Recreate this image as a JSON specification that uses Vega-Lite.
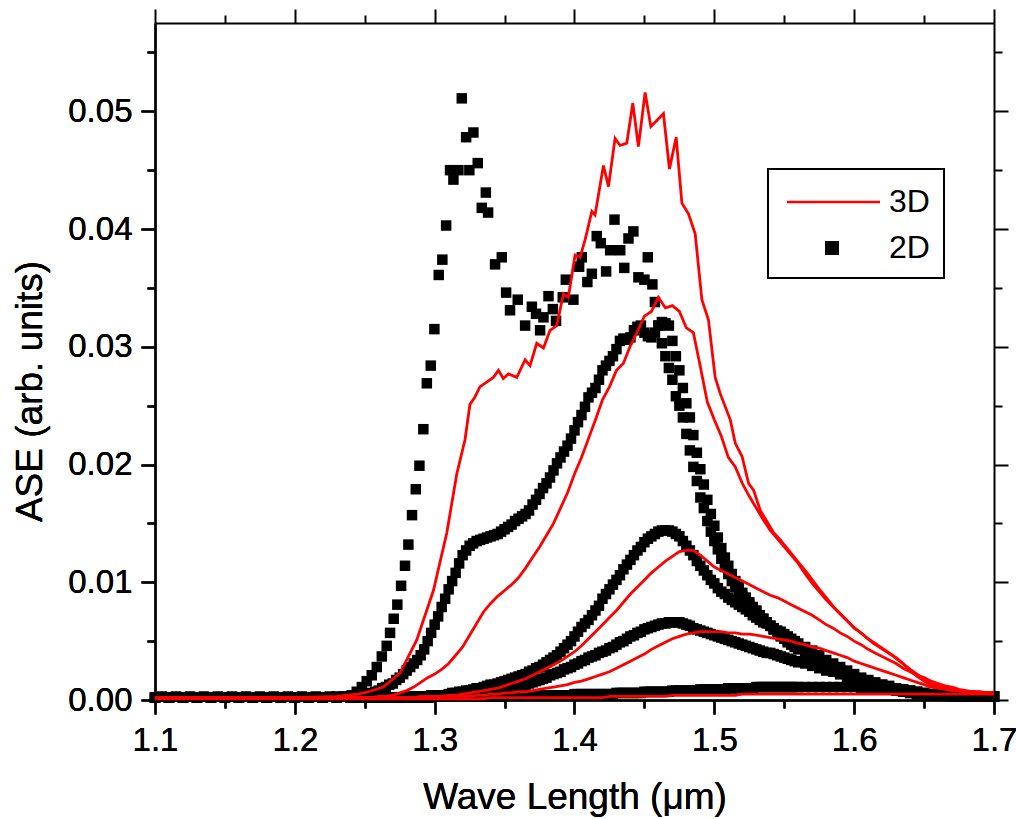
{
"$schema": "https://vega.github.io/schema/vega-lite/v6.json",
"width": 839, "height": 677,
"autosize": {"type": "none"},
"padding": {"left": 155, "top": 23, "right": 22, "bottom": 119},
"background": "white",
"config": {
  "view": {"stroke": null},
  "font": "Liberation Sans",
  "legend": {"strokeWidth": 2},
  "axis": {"labelFont": "Liberation Sans", "titleFont": "Liberation Sans", "labelColor": "black", "titleColor": "black", "domainColor": "black", "tickColor": "black", "titleFontWeight": "normal", "grid": false, "domainWidth": 2, "tickWidth": 2, "labelFontSize": 33, "titleFontSize": 37, "labelOverlap": false, "labelFlush": false}
},
"datasets": {
"w2": [
{"x":1.1,"a":0.0002,"b":0.0002,"c":0.0002,"d":0.0002},
{"x":1.11,"a":0.0002,"b":0.0002,"c":0.0002,"d":0.0002},
{"x":1.12,"a":0.0002,"b":0.0002,"c":0.0002,"d":0.0002},
{"x":1.13,"a":0.0002,"b":0.0002,"c":0.0002,"d":0.0002},
{"x":1.14,"a":0.0002,"b":0.0002,"c":0.0002,"d":0.0002},
{"x":1.15,"a":0.0002,"b":0.0002,"c":0.0002,"d":0.0002},
{"x":1.16,"a":0.0002,"b":0.0002,"c":0.0002,"d":0.0002},
{"x":1.17,"a":0.0002,"b":0.0002,"c":0.0002,"d":0.0002},
{"x":1.18,"a":0.0002,"b":0.0002,"c":0.0002,"d":0.0002},
{"x":1.19,"a":0.0002,"b":0.0002,"c":0.0002,"d":0.0002},
{"x":1.2,"a":0.0002,"b":0.0002,"c":0.0002,"d":0.0002},
{"x":1.21,"a":0.0002,"b":0.0002,"c":0.0002,"d":0.0002},
{"x":1.22,"a":0.0002,"b":0.0002,"c":0.0002,"d":0.0002},
{"x":1.23,"a":0.0002,"b":0.0002,"c":0.0002,"d":0.0003},
{"x":1.24,"a":0.0002,"b":0.0002,"c":0.0002,"d":0.0003},
{"x":1.2425,"a":0.0002,"b":0.0002,"c":0.0002,"d":0.0003},
{"x":1.245,"a":0.0002,"b":0.0002,"c":0.0002,"d":0.0003},
{"x":1.2475,"a":0.0002,"b":0.0002,"c":0.0002,"d":0.0004},
{"x":1.25,"a":0.0002,"b":0.0002,"c":0.0002,"d":0.0004},
{"x":1.2525,"a":0.0002,"b":0.0002,"c":0.0002,"d":0.0005},
{"x":1.255,"a":0.0002,"b":0.0002,"c":0.0002,"d":0.0006},
{"x":1.2575,"a":0.0002,"b":0.0002,"c":0.0002,"d":0.0007},
{"x":1.26,"a":0.0002,"b":0.0002,"c":0.0002,"d":0.0008},
{"x":1.2625,"a":0.0002,"b":0.0002,"c":0.0002,"d":0.001},
{"x":1.265,"a":0.0002,"b":0.0002,"c":0.0002,"d":0.0011},
{"x":1.2675,"a":0.0002,"b":0.0002,"c":0.0002,"d":0.0013},
{"x":1.27,"a":0.0002,"b":0.0002,"c":0.0002,"d":0.0014},
{"x":1.2725,"a":0.0002,"b":0.0002,"c":0.0002,"d":0.0017},
{"x":1.275,"a":0.0002,"b":0.0002,"c":0.0002,"d":0.0019},
{"x":1.2775,"a":0.0002,"b":0.0002,"c":0.0002,"d":0.0022},
{"x":1.28,"a":0.0002,"b":0.0002,"c":0.0003,"d":0.0025},
{"x":1.2825,"a":0.0002,"b":0.0003,"c":0.0003,"d":0.0028},
{"x":1.285,"a":0.0002,"b":0.0003,"c":0.0003,"d":0.0031},
{"x":1.2875,"a":0.0002,"b":0.0003,"c":0.0003,"d":0.0034},
{"x":1.29,"a":0.0002,"b":0.0003,"c":0.0003,"d":0.0038},
{"x":1.2925,"a":0.0002,"b":0.0003,"c":0.0003,"d":0.0043},
{"x":1.295,"a":0.0002,"b":0.0003,"c":0.0003,"d":0.005},
{"x":1.2975,"a":0.0002,"b":0.0003,"c":0.0004,"d":0.0057},
{"x":1.3,"a":0.0003,"b":0.0003,"c":0.0004,"d":0.0064},
{"x":1.3025,"a":0.0003,"b":0.0004,"c":0.0004,"d":0.0071},
{"x":1.305,"a":0.0003,"b":0.0004,"c":0.0004,"d":0.0079},
{"x":1.3075,"a":0.0003,"b":0.0004,"c":0.0004,"d":0.0086},
{"x":1.31,"a":0.0003,"b":0.0004,"c":0.0005,"d":0.0094},
{"x":1.3125,"a":0.0003,"b":0.0004,"c":0.0006,"d":0.0101},
{"x":1.315,"a":0.0003,"b":0.0004,"c":0.0006,"d":0.0108},
{"x":1.3175,"a":0.0003,"b":0.0005,"c":0.0007,"d":0.0116},
{"x":1.32,"a":0.0003,"b":0.0005,"c":0.0007,"d":0.0123},
{"x":1.3225,"a":0.0003,"b":0.0005,"c":0.0008,"d":0.0127},
{"x":1.325,"a":0.0003,"b":0.0005,"c":0.0008,"d":0.0131},
{"x":1.3275,"a":0.0003,"b":0.0005,"c":0.0009,"d":0.0133},
{"x":1.33,"a":0.0003,"b":0.0005,"c":0.001,"d":0.0135},
{"x":1.3325,"a":0.0003,"b":0.0006,"c":0.001,"d":0.0136},
{"x":1.335,"a":0.0003,"b":0.0006,"c":0.0011,"d":0.0137},
{"x":1.3375,"a":0.0003,"b":0.0006,"c":0.0012,"d":0.0138},
{"x":1.34,"a":0.0003,"b":0.0006,"c":0.0013,"d":0.0139},
{"x":1.3425,"a":0.0003,"b":0.0007,"c":0.0013,"d":0.014},
{"x":1.345,"a":0.0003,"b":0.0008,"c":0.0014,"d":0.0141},
{"x":1.3475,"a":0.0003,"b":0.0008,"c":0.0015,"d":0.0143},
{"x":1.35,"a":0.0004,"b":0.0009,"c":0.0016,"d":0.0145},
{"x":1.3525,"a":0.0004,"b":0.0009,"c":0.0017,"d":0.0147},
{"x":1.355,"a":0.0004,"b":0.001,"c":0.0018,"d":0.0149},
{"x":1.3575,"a":0.0004,"b":0.0011,"c":0.0019,"d":0.0152},
{"x":1.36,"a":0.0004,"b":0.0012,"c":0.002,"d":0.0154},
{"x":1.3625,"a":0.0004,"b":0.0013,"c":0.0021,"d":0.0156},
{"x":1.365,"a":0.0004,"b":0.0013,"c":0.0022,"d":0.0158},
{"x":1.3675,"a":0.0004,"b":0.0014,"c":0.0024,"d":0.0161},
{"x":1.37,"a":0.0004,"b":0.0015,"c":0.0025,"d":0.0166},
{"x":1.3725,"a":0.0004,"b":0.0016,"c":0.0027,"d":0.017},
{"x":1.375,"a":0.0004,"b":0.0017,"c":0.0028,"d":0.0175},
{"x":1.3775,"a":0.0004,"b":0.0018,"c":0.003,"d":0.018},
{"x":1.38,"a":0.0004,"b":0.0019,"c":0.0032,"d":0.0184},
{"x":1.3825,"a":0.0004,"b":0.0021,"c":0.0034,"d":0.0189},
{"x":1.385,"a":0.0004,"b":0.0022,"c":0.0036,"d":0.0195},
{"x":1.3875,"a":0.0004,"b":0.0023,"c":0.0038,"d":0.0201},
{"x":1.39,"a":0.0004,"b":0.0024,"c":0.0041,"d":0.0206},
{"x":1.3925,"a":0.0004,"b":0.0026,"c":0.0044,"d":0.0211},
{"x":1.395,"a":0.0004,"b":0.0027,"c":0.0047,"d":0.0216},
{"x":1.3975,"a":0.0004,"b":0.0028,"c":0.005,"d":0.0222},
{"x":1.4,"a":0.0005,"b":0.003,"c":0.0054,"d":0.0229},
{"x":1.4025,"a":0.0005,"b":0.0031,"c":0.0058,"d":0.0236},
{"x":1.405,"a":0.0005,"b":0.0033,"c":0.0062,"d":0.0242},
{"x":1.4075,"a":0.0005,"b":0.0034,"c":0.0065,"d":0.0249},
{"x":1.41,"a":0.0005,"b":0.0036,"c":0.0068,"d":0.0257},
{"x":1.4125,"a":0.0005,"b":0.0037,"c":0.0072,"d":0.0261},
{"x":1.415,"a":0.0005,"b":0.0038,"c":0.0076,"d":0.0265},
{"x":1.4175,"a":0.0005,"b":0.004,"c":0.008,"d":0.0272},
{"x":1.42,"a":0.0005,"b":0.0041,"c":0.0086,"d":0.028},
{"x":1.4225,"a":0.0005,"b":0.0042,"c":0.009,"d":0.0284},
{"x":1.425,"a":0.0005,"b":0.0044,"c":0.0094,"d":0.0288},
{"x":1.4275,"a":0.0005,"b":0.0045,"c":0.0098,"d":0.0292},
{"x":1.43,"a":0.0006,"b":0.0047,"c":0.0102,"d":0.0298},
{"x":1.4325,"a":0.0006,"b":0.0049,"c":0.0106,"d":0.0305},
{"x":1.435,"a":0.0006,"b":0.005,"c":0.0111,"d":0.0307},
{"x":1.4375,"a":0.0006,"b":0.0052,"c":0.0115,"d":0.0306},
{"x":1.44,"a":0.0006,"b":0.0054,"c":0.0119,"d":0.0308},
{"x":1.4425,"a":0.0006,"b":0.0055,"c":0.0123,"d":0.0314},
{"x":1.445,"a":0.0006,"b":0.0057,"c":0.0127,"d":0.0317},
{"x":1.4475,"a":0.0006,"b":0.0058,"c":0.013,"d":0.0318},
{"x":1.45,"a":0.0007,"b":0.006,"c":0.0134,"d":0.0312},
{"x":1.4525,"a":0.0007,"b":0.0061,"c":0.0137,"d":0.0309},
{"x":1.455,"a":0.0007,"b":0.0062,"c":0.0139,"d":0.0308},
{"x":1.4575,"a":0.0007,"b":0.0063,"c":0.0141,"d":0.0312},
{"x":1.46,"a":0.0007,"b":0.0064,"c":0.0143,"d":0.0318},
{"x":1.4625,"a":0.0007,"b":0.0065,"c":0.0144,"d":0.0321},
{"x":1.465,"a":0.0007,"b":0.0065,"c":0.0144,"d":0.032},
{"x":1.4675,"a":0.0007,"b":0.0066,"c":0.0144,"d":0.0318},
{"x":1.47,"a":0.0008,"b":0.0066,"c":0.0143,"d":0.0305},
{"x":1.4725,"a":0.0008,"b":0.0066,"c":0.0141,"d":0.0292},
{"x":1.475,"a":0.0008,"b":0.0066,"c":0.0139,"d":0.028},
{"x":1.4775,"a":0.0008,"b":0.0065,"c":0.0135,"d":0.0265},
{"x":1.48,"a":0.0008,"b":0.0064,"c":0.0131,"d":0.0252},
{"x":1.4825,"a":0.0008,"b":0.0063,"c":0.0127,"d":0.024},
{"x":1.485,"a":0.0008,"b":0.0061,"c":0.0123,"d":0.0225},
{"x":1.4875,"a":0.0008,"b":0.006,"c":0.0118,"d":0.021},
{"x":1.49,"a":0.0009,"b":0.0059,"c":0.0114,"d":0.0196},
{"x":1.4925,"a":0.0009,"b":0.0058,"c":0.011,"d":0.0183},
{"x":1.495,"a":0.0009,"b":0.0057,"c":0.0106,"d":0.017},
{"x":1.4975,"a":0.0009,"b":0.0056,"c":0.0102,"d":0.0158},
{"x":1.5,"a":0.0009,"b":0.0055,"c":0.0099,"d":0.0148},
{"x":1.5025,"a":0.0009,"b":0.0054,"c":0.0095,"d":0.0138},
{"x":1.505,"a":0.0009,"b":0.0053,"c":0.0092,"d":0.0129},
{"x":1.5075,"a":0.0009,"b":0.0052,"c":0.009,"d":0.0121},
{"x":1.51,"a":0.001,"b":0.0051,"c":0.0087,"d":0.0114},
{"x":1.5125,"a":0.001,"b":0.005,"c":0.0085,"d":0.0107},
{"x":1.515,"a":0.001,"b":0.0049,"c":0.0083,"d":0.0101},
{"x":1.5175,"a":0.001,"b":0.0048,"c":0.0081,"d":0.0096},
{"x":1.52,"a":0.001,"b":0.0047,"c":0.0079,"d":0.0091},
{"x":1.5225,"a":0.001,"b":0.0046,"c":0.0077,"d":0.0087},
{"x":1.525,"a":0.001,"b":0.0045,"c":0.0075,"d":0.0083},
{"x":1.5275,"a":0.001,"b":0.0044,"c":0.0072,"d":0.0079},
{"x":1.53,"a":0.0011,"b":0.0043,"c":0.007,"d":0.0076},
{"x":1.5325,"a":0.0011,"b":0.0042,"c":0.0068,"d":0.0072},
{"x":1.535,"a":0.0011,"b":0.0041,"c":0.0066,"d":0.0069},
{"x":1.5375,"a":0.0011,"b":0.004,"c":0.0065,"d":0.0066},
{"x":1.54,"a":0.0011,"b":0.004,"c":0.0063,"d":0.0063},
{"x":1.5425,"a":0.0011,"b":0.0039,"c":0.0061,"d":0.006},
{"x":1.545,"a":0.0011,"b":0.0038,"c":0.0059,"d":0.0057},
{"x":1.5475,"a":0.0011,"b":0.0037,"c":0.0058,"d":0.0054},
{"x":1.55,"a":0.0011,"b":0.0036,"c":0.0056,"d":0.0052},
{"x":1.5525,"a":0.0011,"b":0.0035,"c":0.0054,"d":0.0049},
{"x":1.555,"a":0.0011,"b":0.0034,"c":0.0052,"d":0.0047},
{"x":1.5575,"a":0.0011,"b":0.0033,"c":0.005,"d":0.0045},
{"x":1.56,"a":0.0011,"b":0.0032,"c":0.0048,"d":0.0043},
{"x":1.565,"a":0.0011,"b":0.0031,"c":0.0045,"d":0.0039},
{"x":1.57,"a":0.0011,"b":0.0029,"c":0.0042,"d":0.0035},
{"x":1.575,"a":0.0011,"b":0.0027,"c":0.0038,"d":0.0031},
{"x":1.58,"a":0.0011,"b":0.0025,"c":0.0034,"d":0.0028},
{"x":1.585,"a":0.0011,"b":0.0024,"c":0.0031,"d":0.0025},
{"x":1.59,"a":0.0011,"b":0.0022,"c":0.0028,"d":0.0022},
{"x":1.595,"a":0.0011,"b":0.002,"c":0.0025,"d":0.0019},
{"x":1.6,"a":0.0011,"b":0.0019,"c":0.0022,"d":0.0017},
{"x":1.605,"a":0.001,"b":0.0017,"c":0.0019,"d":0.0015},
{"x":1.61,"a":0.001,"b":0.0016,"c":0.0017,"d":0.0013},
{"x":1.615,"a":0.001,"b":0.0014,"c":0.0015,"d":0.0011},
{"x":1.62,"a":0.001,"b":0.0013,"c":0.0013,"d":0.001},
{"x":1.625,"a":0.0009,"b":0.0012,"c":0.0011,"d":0.0009},
{"x":1.63,"a":0.0009,"b":0.001,"c":0.0009,"d":0.0008},
{"x":1.635,"a":0.0009,"b":0.0009,"c":0.0008,"d":0.0007},
{"x":1.64,"a":0.0008,"b":0.0008,"c":0.0007,"d":0.0006},
{"x":1.645,"a":0.0007,"b":0.0007,"c":0.0006,"d":0.0005},
{"x":1.65,"a":0.0006,"b":0.0006,"c":0.0005,"d":0.0005},
{"x":1.655,"a":0.0005,"b":0.0005,"c":0.0004,"d":0.0005},
{"x":1.66,"a":0.0004,"b":0.0005,"c":0.0004,"d":0.0004},
{"x":1.665,"a":0.0004,"b":0.0004,"c":0.0004,"d":0.0004},
{"x":1.67,"a":0.0004,"b":0.0004,"c":0.0003,"d":0.0004},
{"x":1.675,"a":0.0003,"b":0.0003,"c":0.0003,"d":0.0003},
{"x":1.68,"a":0.0003,"b":0.0003,"c":0.0003,"d":0.0003},
{"x":1.685,"a":0.0003,"b":0.0003,"c":0.0003,"d":0.0003},
{"x":1.69,"a":0.0003,"b":0.0003,"c":0.0003,"d":0.0003},
{"x":1.695,"a":0.0003,"b":0.0003,"c":0.0003,"d":0.0003},
{"x":1.7,"a":0.0003,"b":0.0003,"c":0.0003,"d":0.0003}
],
"e2": [
{"x":1.105,"y":0.0003},{"x":1.115,"y":0.0003},{"x":1.125,"y":0.0003},{"x":1.135,"y":0.0003},{"x":1.145,"y":0.0003},
{"x":1.155,"y":0.0003},{"x":1.165,"y":0.0003},{"x":1.175,"y":0.0003},{"x":1.185,"y":0.0003},{"x":1.195,"y":0.0003},
{"x":1.205,"y":0.0003},{"x":1.215,"y":0.0003},{"x":1.225,"y":0.0003},{"x":1.235,"y":0.0003},{"x":1.2375,"y":0.0003},
{"x":1.2407,"y":0.0004},{"x":1.2443,"y":0.0007},{"x":1.2479,"y":0.0011},{"x":1.2514,"y":0.0016},{"x":1.255,"y":0.0021},
{"x":1.2586,"y":0.0028},{"x":1.2622,"y":0.0037},{"x":1.2657,"y":0.0046},{"x":1.2681,"y":0.0057},{"x":1.2707,"y":0.0069},
{"x":1.2733,"y":0.0081},{"x":1.276,"y":0.0097},{"x":1.2788,"y":0.0114},{"x":1.2812,"y":0.0132},{"x":1.2838,"y":0.0157},
{"x":1.2865,"y":0.0179},{"x":1.2891,"y":0.0199},{"x":1.2919,"y":0.023},{"x":1.2944,"y":0.0269},{"x":1.2972,"y":0.0284},
{"x":1.2998,"y":0.0315},{"x":1.3029,"y":0.0361},{"x":1.3055,"y":0.0374},{"x":1.3082,"y":0.0403},{"x":1.311,"y":0.045},
{"x":1.3134,"y":0.0442},{"x":1.317,"y":0.045},{"x":1.3194,"y":0.0511},{"x":1.3225,"y":0.0478},{"x":1.3248,"y":0.045},
{"x":1.3277,"y":0.0482},{"x":1.3308,"y":0.0456},{"x":1.3337,"y":0.0418},{"x":1.3366,"y":0.0431},{"x":1.3382,"y":0.0414},
{"x":1.3432,"y":0.037},{"x":1.348,"y":0.0376},{"x":1.3511,"y":0.0346},{"x":1.3539,"y":0.0331},{"x":1.3594,"y":0.034},
{"x":1.3647,"y":0.0318},{"x":1.3695,"y":0.0334},{"x":1.3725,"y":0.0328},{"x":1.3754,"y":0.0314},{"x":1.3778,"y":0.0325},
{"x":1.3814,"y":0.0343},{"x":1.3845,"y":0.0332},{"x":1.3868,"y":0.0322},{"x":1.3916,"y":0.0342},{"x":1.3938,"y":0.0357},
{"x":1.3992,"y":0.034},{"x":1.4033,"y":0.0368},{"x":1.4052,"y":0.0376},{"x":1.4092,"y":0.0355},{"x":1.4124,"y":0.0362},
{"x":1.4159,"y":0.0394},{"x":1.4188,"y":0.0388},{"x":1.4226,"y":0.0364},{"x":1.4255,"y":0.0382},{"x":1.4286,"y":0.0408},
{"x":1.4327,"y":0.0382},{"x":1.4356,"y":0.0367},{"x":1.4386,"y":0.0392},{"x":1.4421,"y":0.0398},{"x":1.4457,"y":0.0359},
{"x":1.45,"y":0.0357},{"x":1.4524,"y":0.0376},{"x":1.4557,"y":0.0353},{"x":1.4575,"y":0.0338},{"x":1.46,"y":0.0318},
{"x":1.4625,"y":0.0303},{"x":1.465,"y":0.0292},{"x":1.4675,"y":0.0282},{"x":1.47,"y":0.0272},{"x":1.4725,"y":0.0258},
{"x":1.475,"y":0.025},{"x":1.4775,"y":0.024},{"x":1.48,"y":0.0226},{"x":1.4825,"y":0.0212},{"x":1.485,"y":0.0198},
{"x":1.4875,"y":0.0186},{"x":1.49,"y":0.0172},{"x":1.4925,"y":0.0163},{"x":1.495,"y":0.0152},{"x":1.4975,"y":0.0143},
{"x":1.5,"y":0.0135},{"x":1.5025,"y":0.0128},{"x":1.505,"y":0.012},{"x":1.5075,"y":0.0113},{"x":1.51,"y":0.0107},
{"x":1.5125,"y":0.0101},{"x":1.515,"y":0.0096},{"x":1.5175,"y":0.0092},{"x":1.52,"y":0.0088},{"x":1.5225,"y":0.0084},
{"x":1.525,"y":0.0081},{"x":1.5275,"y":0.0078},{"x":1.53,"y":0.0075},{"x":1.5325,"y":0.0072},{"x":1.535,"y":0.0069},
{"x":1.5375,"y":0.0066},{"x":1.54,"y":0.0063},{"x":1.5425,"y":0.006},{"x":1.545,"y":0.0057},{"x":1.5475,"y":0.0055},
{"x":1.55,"y":0.0052},{"x":1.5525,"y":0.005},{"x":1.555,"y":0.0048},{"x":1.5575,"y":0.0046},{"x":1.56,"y":0.0044},
{"x":1.565,"y":0.004},{"x":1.57,"y":0.0036},{"x":1.575,"y":0.0032},{"x":1.58,"y":0.0029},{"x":1.585,"y":0.0026},
{"x":1.59,"y":0.0023},{"x":1.595,"y":0.002},{"x":1.6,"y":0.0018},{"x":1.605,"y":0.0016},{"x":1.61,"y":0.0014},
{"x":1.615,"y":0.0012},{"x":1.62,"y":0.001},{"x":1.625,"y":0.0009},{"x":1.63,"y":0.0008},{"x":1.635,"y":0.0007},
{"x":1.64,"y":0.0006},{"x":1.645,"y":0.0005},{"x":1.65,"y":0.0005},{"x":1.66,"y":0.0004},{"x":1.67,"y":0.0004},
{"x":1.68,"y":0.0003},{"x":1.69,"y":0.0003},{"x":1.7,"y":0.0003}
],
"w3": [
{"x":1.1,"f":0.0001,"g":0.0002,"h":0.0002,"i":0.0002},
{"x":1.15,"f":0.0001,"g":0.0002,"h":0.0002,"i":0.0002},
{"x":1.2,"f":0.0001,"g":0.0002,"h":0.0002,"i":0.0002},
{"x":1.22,"f":0.0001,"g":0.0002,"h":0.0002,"i":0.0002},
{"x":1.24,"f":0.0001,"g":0.0002,"h":0.0002,"i":0.0002},
{"x":1.25,"f":0.0001,"g":0.0002,"h":0.0002,"i":0.0002},
{"x":1.255,"f":0.0001,"g":0.0002,"h":0.0002,"i":0.0002},
{"x":1.26,"f":0.0001,"g":0.0002,"h":0.0002,"i":0.0003},
{"x":1.265,"f":0.0001,"g":0.0002,"h":0.0002,"i":0.0003},
{"x":1.27,"f":0.0001,"g":0.0002,"h":0.0002,"i":0.0004},
{"x":1.275,"f":0.0001,"g":0.0002,"h":0.0002,"i":0.0006},
{"x":1.28,"f":0.0001,"g":0.0002,"h":0.0002,"i":0.0008},
{"x":1.285,"f":0.0001,"g":0.0002,"h":0.0002,"i":0.0011},
{"x":1.29,"f":0.0001,"g":0.0002,"h":0.0003,"i":0.0015},
{"x":1.295,"f":0.0001,"g":0.0002,"h":0.0003,"i":0.0019},
{"x":1.3,"f":0.0001,"g":0.0002,"h":0.0003,"i":0.0022},
{"x":1.305,"f":0.0001,"g":0.0003,"h":0.0003,"i":0.0026},
{"x":1.31,"f":0.0001,"g":0.0003,"h":0.0004,"i":0.0031},
{"x":1.315,"f":0.0001,"g":0.0003,"h":0.0004,"i":0.0038},
{"x":1.32,"f":0.0001,"g":0.0003,"h":0.0005,"i":0.0045},
{"x":1.325,"f":0.0001,"g":0.0003,"h":0.0006,"i":0.0055},
{"x":1.33,"f":0.0001,"g":0.0004,"h":0.0007,"i":0.0065},
{"x":1.335,"f":0.0001,"g":0.0004,"h":0.0008,"i":0.0075},
{"x":1.34,"f":0.0002,"g":0.0005,"h":0.0009,"i":0.0082},
{"x":1.345,"f":0.0002,"g":0.0005,"h":0.001,"i":0.0088},
{"x":1.35,"f":0.0002,"g":0.0006,"h":0.0012,"i":0.0093},
{"x":1.355,"f":0.0002,"g":0.0006,"h":0.0014,"i":0.0098},
{"x":1.36,"f":0.0002,"g":0.0007,"h":0.0016,"i":0.0104},
{"x":1.365,"f":0.0002,"g":0.0007,"h":0.0018,"i":0.0112},
{"x":1.37,"f":0.0002,"g":0.0008,"h":0.0021,"i":0.0121},
{"x":1.375,"f":0.0002,"g":0.0009,"h":0.0024,"i":0.013},
{"x":1.38,"f":0.0002,"g":0.001,"h":0.0027,"i":0.014},
{"x":1.385,"f":0.0002,"g":0.0011,"h":0.003,"i":0.015},
{"x":1.39,"f":0.0002,"g":0.0012,"h":0.0033,"i":0.0163},
{"x":1.395,"f":0.0002,"g":0.0013,"h":0.0037,"i":0.0176},
{"x":1.4,"f":0.0002,"g":0.0015,"h":0.0041,"i":0.0192},
{"x":1.405,"f":0.0002,"g":0.0016,"h":0.0046,"i":0.0206},
{"x":1.41,"f":0.0002,"g":0.0018,"h":0.0052,"i":0.0222},
{"x":1.415,"f":0.0002,"g":0.002,"h":0.0058,"i":0.0238},
{"x":1.42,"f":0.0002,"g":0.0022,"h":0.0064,"i":0.0255},
{"x":1.425,"f":0.0003,"g":0.0024,"h":0.007,"i":0.0266},
{"x":1.43,"f":0.0003,"g":0.0027,"h":0.0076,"i":0.028},
{"x":1.435,"f":0.0003,"g":0.003,"h":0.0083,"i":0.0286},
{"x":1.44,"f":0.0003,"g":0.0033,"h":0.009,"i":0.0301},
{"x":1.445,"f":0.0003,"g":0.0036,"h":0.0096,"i":0.0313},
{"x":1.45,"f":0.0003,"g":0.0039,"h":0.0102,"i":0.0326},
{"x":1.455,"f":0.0003,"g":0.0043,"h":0.0108,"i":0.033},
{"x":1.46,"f":0.0003,"g":0.0046,"h":0.0113,"i":0.0342},
{"x":1.465,"f":0.0003,"g":0.0049,"h":0.0118,"i":0.0333},
{"x":1.47,"f":0.0004,"g":0.0052,"h":0.0122,"i":0.0335},
{"x":1.475,"f":0.0004,"g":0.0054,"h":0.0126,"i":0.033},
{"x":1.48,"f":0.0004,"g":0.0056,"h":0.0127,"i":0.0316},
{"x":1.485,"f":0.0004,"g":0.0057,"h":0.0127,"i":0.0312},
{"x":1.49,"f":0.0004,"g":0.0058,"h":0.0123,"i":0.0283},
{"x":1.495,"f":0.0004,"g":0.0058,"h":0.0118,"i":0.0253},
{"x":1.5,"f":0.0004,"g":0.0058,"h":0.0113,"i":0.0238},
{"x":1.505,"f":0.0004,"g":0.0058,"h":0.011,"i":0.0224},
{"x":1.51,"f":0.0004,"g":0.0057,"h":0.0107,"i":0.0206},
{"x":1.515,"f":0.0004,"g":0.0057,"h":0.0104,"i":0.0198},
{"x":1.52,"f":0.0005,"g":0.0056,"h":0.0101,"i":0.0184},
{"x":1.525,"f":0.0005,"g":0.0056,"h":0.0098,"i":0.0173},
{"x":1.53,"f":0.0005,"g":0.0055,"h":0.0095,"i":0.0163},
{"x":1.535,"f":0.0005,"g":0.0054,"h":0.0092,"i":0.0153},
{"x":1.54,"f":0.0005,"g":0.0053,"h":0.0089,"i":0.0144},
{"x":1.545,"f":0.0005,"g":0.0052,"h":0.0087,"i":0.0137},
{"x":1.55,"f":0.0005,"g":0.0051,"h":0.0084,"i":0.013},
{"x":1.555,"f":0.0005,"g":0.005,"h":0.0081,"i":0.0123},
{"x":1.56,"f":0.0005,"g":0.0048,"h":0.0078,"i":0.0116},
{"x":1.565,"f":0.0005,"g":0.0047,"h":0.0075,"i":0.0107},
{"x":1.57,"f":0.0005,"g":0.0045,"h":0.0072,"i":0.0099},
{"x":1.575,"f":0.0005,"g":0.0044,"h":0.0068,"i":0.0092},
{"x":1.58,"f":0.0005,"g":0.0042,"h":0.0064,"i":0.0085},
{"x":1.585,"f":0.0005,"g":0.004,"h":0.0061,"i":0.0079},
{"x":1.59,"f":0.0005,"g":0.0038,"h":0.0057,"i":0.0073},
{"x":1.595,"f":0.0005,"g":0.0036,"h":0.0054,"i":0.0067},
{"x":1.6,"f":0.0005,"g":0.0033,"h":0.005,"i":0.0061},
{"x":1.605,"f":0.0005,"g":0.0031,"h":0.0047,"i":0.0057},
{"x":1.61,"f":0.0005,"g":0.0029,"h":0.0043,"i":0.0052},
{"x":1.615,"f":0.0005,"g":0.0027,"h":0.004,"i":0.0048},
{"x":1.62,"f":0.0005,"g":0.0025,"h":0.0037,"i":0.0044},
{"x":1.625,"f":0.0005,"g":0.0023,"h":0.0034,"i":0.004},
{"x":1.63,"f":0.0005,"g":0.0021,"h":0.0031,"i":0.0036},
{"x":1.635,"f":0.0005,"g":0.0019,"h":0.0027,"i":0.0031},
{"x":1.64,"f":0.0005,"g":0.0017,"h":0.0024,"i":0.0025},
{"x":1.645,"f":0.0005,"g":0.0015,"h":0.0021,"i":0.002},
{"x":1.65,"f":0.0005,"g":0.0013,"h":0.0019,"i":0.0016},
{"x":1.655,"f":0.0005,"g":0.0011,"h":0.0016,"i":0.0013},
{"x":1.66,"f":0.0005,"g":0.001,"h":0.0014,"i":0.0011},
{"x":1.665,"f":0.0005,"g":0.0009,"h":0.0012,"i":0.001},
{"x":1.67,"f":0.0005,"g":0.0008,"h":0.0011,"i":0.0009},
{"x":1.675,"f":0.0005,"g":0.0008,"h":0.0009,"i":0.0008},
{"x":1.68,"f":0.0005,"g":0.0007,"h":0.0008,"i":0.0007},
{"x":1.685,"f":0.0005,"g":0.0007,"h":0.0007,"i":0.0007},
{"x":1.69,"f":0.0005,"g":0.0006,"h":0.0007,"i":0.0006},
{"x":1.695,"f":0.0005,"g":0.0006,"h":0.0006,"i":0.0006},
{"x":1.7,"f":0.0005,"g":0.0006,"h":0.0006,"i":0.0006}
],
"e3": [
{"x":1.1,"y":0.0002},{"x":1.2,"y":0.0002},{"x":1.23,"y":0.0003},{"x":1.245,"y":0.0005},{"x":1.2526,"y":0.0007},
{"x":1.2633,"y":0.0011},{"x":1.2753,"y":0.0023},{"x":1.2872,"y":0.0051},{"x":1.2991,"y":0.0093},{"x":1.3087,"y":0.0142},
{"x":1.3158,"y":0.0192},{"x":1.3217,"y":0.0221},{"x":1.3252,"y":0.0251},{"x":1.3287,"y":0.0257},{"x":1.3323,"y":0.0266},
{"x":1.3359,"y":0.0269},{"x":1.342,"y":0.0274},{"x":1.3456,"y":0.028},{"x":1.3491,"y":0.0273},{"x":1.3527,"y":0.0277},
{"x":1.3587,"y":0.0274},{"x":1.3647,"y":0.0289},{"x":1.3682,"y":0.0284},{"x":1.373,"y":0.0303},{"x":1.3778,"y":0.0299},
{"x":1.3825,"y":0.0314},{"x":1.3873,"y":0.0318},{"x":1.3921,"y":0.0345},{"x":1.3956,"y":0.0342},{"x":1.4004,"y":0.0378},
{"x":1.404,"y":0.0376},{"x":1.4076,"y":0.0391},{"x":1.4124,"y":0.0415},{"x":1.4147,"y":0.0412},{"x":1.4207,"y":0.0454},
{"x":1.4243,"y":0.0436},{"x":1.429,"y":0.0477},{"x":1.4326,"y":0.0471},{"x":1.4374,"y":0.0473},{"x":1.4417,"y":0.0507},
{"x":1.4457,"y":0.047},{"x":1.4505,"y":0.0516},{"x":1.4546,"y":0.0487},{"x":1.4636,"y":0.0498},{"x":1.4679,"y":0.0451},
{"x":1.4727,"y":0.0478},{"x":1.4768,"y":0.0422},{"x":1.4815,"y":0.0413},{"x":1.4863,"y":0.0396},{"x":1.4911,"y":0.034},
{"x":1.4958,"y":0.0323},{"x":1.5006,"y":0.0274},{"x":1.5043,"y":0.026},{"x":1.5114,"y":0.0238},{"x":1.515,"y":0.0218},
{"x":1.5198,"y":0.0207},{"x":1.5245,"y":0.0184},{"x":1.5281,"y":0.0178},{"x":1.5329,"y":0.0161},{"x":1.5424,"y":0.0142},
{"x":1.5472,"y":0.0136},{"x":1.5567,"y":0.0122},{"x":1.5663,"y":0.0108},{"x":1.5758,"y":0.0093},{"x":1.5853,"y":0.0079},
{"x":1.5996,"y":0.0062},{"x":1.6138,"y":0.0048},{"x":1.6281,"y":0.0037},{"x":1.6401,"y":0.0026},{"x":1.6472,"y":0.002},
{"x":1.6615,"y":0.0011},{"x":1.6806,"y":0.0007},{"x":1.7,"y":0.0006}
]
},
"encoding": {
  "x": {"field": "x", "type": "quantitative",
    "scale": {"domain": [1.1, 1.7], "nice": false, "zero": false},
    "axis": {"orient": "bottom", "title": "Wave Length (μm)", "values": [1.1,1.15,1.2,1.25,1.3,1.35,1.4,1.45,1.5,1.55,1.6,1.65,1.7],
      "labelExpr": "round(datum.value*20) % 2 == 0 ? format(datum.value, '.1f') : ''",
      "tickSize": {"condition": {"test": "round(datum.value*20) % 2 == 0", "value": 14}, "value": 8},
      "labelPadding": 10, "titlePadding": 22}},
  "y": {"field": "y", "type": "quantitative",
    "scale": {"domain": [0, 0.0575], "nice": false},
    "axis": {"orient": "left", "title": "ASE (arb. units)", "values": [0,0.005,0.01,0.015,0.02,0.025,0.03,0.035,0.04,0.045,0.05,0.055],
      "labelExpr": "round(datum.value*200) % 2 == 0 ? format(datum.value, '.2f') : ''",
      "tickSize": {"condition": {"test": "round(datum.value*200) % 2 == 0", "value": 14}, "value": 8},
      "labelPadding": 9, "titlePadding": 18, "titleY": 368}}
},
"layer": [
  {
    "data": {"name": "w2"},
    "transform": [{"fold": ["a", "b", "c", "d"], "as": ["k", "y"]}],
    "mark": {"type": "point", "filled": true, "size": 110, "opacity": 1, "strokeWidth": 0, "color": "#000000"},
    "encoding": {
      "shape": {"datum": "2D", "scale": {"domain": ["2D"], "range": ["square"]},
        "legend": {"title": "\u00a0", "titleFontSize": 32, "titlePadding": 17, "titleOrient": "top",
          "orient": "none", "legendX": 613, "legendY": 146, "padding": 14, "strokeColor": "black",
          "labelFont": "Liberation Sans", "labelFontSize": 32, "labelColor": "black", "labelOffset": 41, "labelLimit": 0,
          "labelExpr": "datum.label + '\u00a0\u00a0'",
          "symbolOffset": 34, "symbolSize": 196, "symbolFillColor": "#000000", "symbolStrokeWidth": 0, "symbolOpacity": 1}}
    }
  },
  {
    "data": {"name": "e2"},
    "mark": {"type": "point", "filled": true, "size": 110, "opacity": 1, "strokeWidth": 0, "color": "#000000"},
    "encoding": {"shape": {"datum": "2D"}}
  },
  {
    "data": {"name": "w3"},
    "transform": [{"fold": ["f", "g", "h", "i"], "as": ["k", "y"]}],
    "mark": {"type": "line", "strokeWidth": 2.8},
    "encoding": {
      "color": {"datum": "3D", "scale": {"domain": ["3D"], "range": ["#ff0000"]},
        "legend": {"title": null, "orient": "none", "legendX": 630.5, "legendY": 131, "padding": 0, "strokeColor": null,
          "labelFont": "Liberation Sans", "labelFontSize": 32, "labelColor": "black", "labelOffset": 7.5, "labelLimit": 0,
          "symbolType": "stroke", "symbolSize": 8649, "symbolStrokeWidth": 2.5, "symbolStrokeColor": "#ff0000", "symbolOpacity": 1}},
      "detail": {"field": "k"}
    }
  },
  {
    "data": {"name": "e3"},
    "mark": {"type": "line", "strokeWidth": 2.8},
    "encoding": {
      "color": {"datum": "3D"},
      "x": {"field": "x", "type": "quantitative",
        "axis": {"orient": "top", "title": null, "labels": false, "values": [1.1,1.15,1.2,1.25,1.3,1.35,1.4,1.45,1.5,1.55,1.6,1.65,1.7],
          "tickSize": {"condition": {"test": "round(datum.value*20) % 2 == 0", "value": 14}, "value": 8}}},
      "y": {"field": "y", "type": "quantitative",
        "axis": {"orient": "right", "title": null, "labels": false, "values": [0,0.005,0.01,0.015,0.02,0.025,0.03,0.035,0.04,0.045,0.05,0.055],
          "tickSize": {"condition": {"test": "round(datum.value*200) % 2 == 0", "value": 14}, "value": 8}}}
    }
  },
  {
    "data": {"values": [{}]},
    "mark": {"type": "text", "font": "Liberation Sans", "fontSize": 48, "align": "left", "baseline": "middle", "lineHeight": 58.5, "color": "black"},
    "encoding": {
      "x": {"datum": 1.1222, "type": "quantitative", "axis": null},
      "y": {"datum": 0.0361, "type": "quantitative", "axis": null},
      "text": {"value": ["60mA", "180mA", "300mA", "600mA", "900mA"]}
    }
  }
]
}
